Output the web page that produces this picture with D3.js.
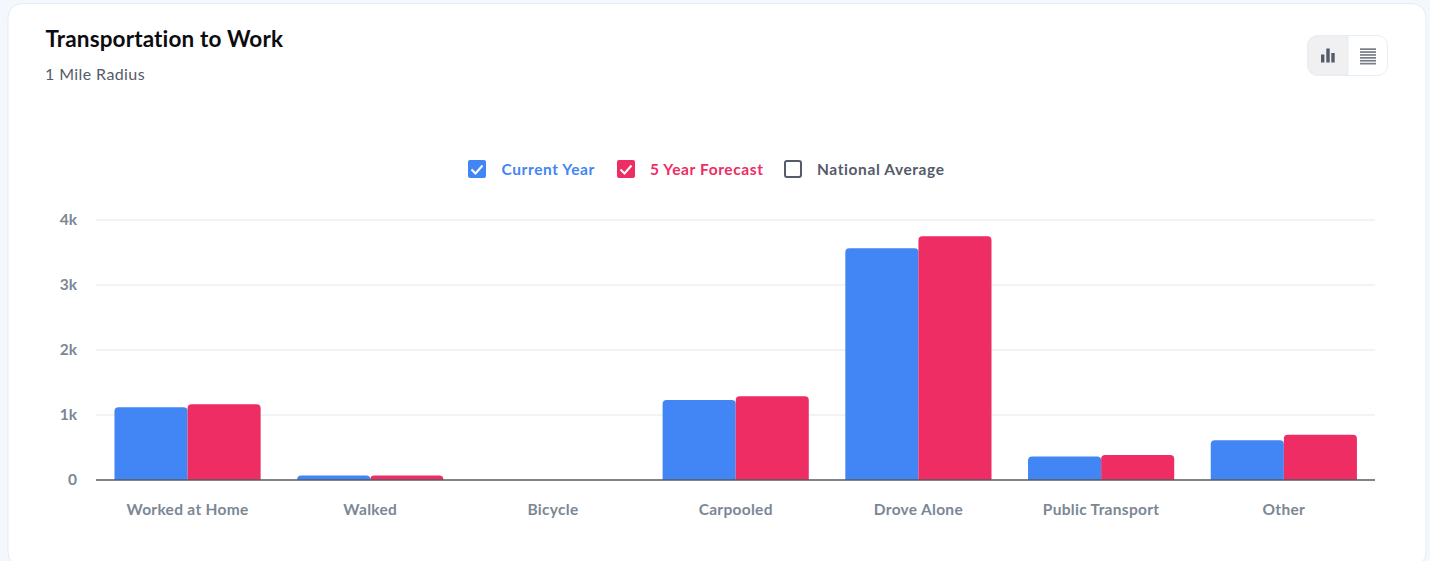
<!DOCTYPE html>
<html><head><meta charset="utf-8">
<script src="https://cdn.jsdelivr.net/npm/d3@7/dist/d3.min.js"></script>
<style>html,body{margin:0;padding:0;background:#f4f8fc;overflow:hidden}svg{display:block}text{font-family:Lato,"Noto Sans",sans-serif}</style>
</head><body><svg id="c" width="1430" height="561"></svg>
<script>
const categories=["Worked at Home","Walked","Bicycle","Carpooled","Drove Alone","Public Transport","Other"];
const currentYear=[1120,70,0,1230,3565,360,610];
const fiveYear=[1165,70,0,1290,3750,385,695];
const yTicks=[0,1000,2000,3000,4000];
const yLabels=["0","1k","2k","3k","4k"];
const seriesNames=["Current Year","5 Year Forecast"];
const seriesColors=["#4285f4","#ee2d64"];
const legendItems=[["Current Year","#4285f4",true,468,501.5],["5 Year Forecast","#ee2d64",true,617,650],["National Average","#555b6a",false,784,817]];

const svg=d3.select("#c");
svg.append("rect").attr("x",8).attr("y",3.5).attr("width",1418).attr("height",563).attr("rx",14)
  .attr("fill","#fff").attr("stroke","#e2edf5");
svg.append("text").attr("x",45.5).attr("y",47).attr("font-size",22.5).attr("font-weight",700).attr("letter-spacing",.14).attr("fill","#0c0c10").text("Transportation to Work");
svg.append("text").attr("x",45).attr("y",80).attr("font-size",16).attr("letter-spacing",.4).attr("fill","#555b6a").text("1 Mile Radius");

// toggle
const tg=svg.append("g");
tg.append("rect").attr("x",1307.5).attr("y",35.5).attr("width",80).attr("height",40).attr("rx",10).attr("fill","#fff").attr("stroke","#e6eef5");
tg.append("path").attr("d","M1318 36 h30 v39 h-30 a10 10 0 0 1 -10 -10 v-19 a10 10 0 0 1 10 -10z").attr("fill","#f0f0f1").attr("stroke","#e6eef5");
[[1321,8],[1326.3,14],[1331.3,9.5]].forEach(([x,h])=>{
  tg.append("rect").attr("x",x).attr("y",62.5-h).attr("width",3.4).attr("height",h).attr("fill","#555b6a");
});
d3.range(6).forEach(i=>tg.append("rect").attr("x",1360).attr("y",48.3+i*2.9).attr("width",16).attr("height",1.7).attr("fill","#777c88"));

// legend
const lg=svg.selectAll("g.l").data(legendItems).join("g").attr("class","l");
lg.append("rect").attr("x",d=>d[3]).attr("y",160).attr("width",18).attr("height",18).attr("rx",2)
  .attr("fill",d=>d[2]?d[1]:"#fff");
lg.filter(d=>!d[2]).select("rect").attr("x",d=>d[3]+1).attr("y",161).attr("width",16).attr("height",16).attr("stroke",d=>d[1]).attr("stroke-width",2);
lg.filter(d=>d[2]).append("path").attr("d",d=>`M${d[3]+3.5} 169.5 l4 4 l7 -8`).attr("fill","none").attr("stroke","#fff").attr("stroke-width",2);
lg.append("text").attr("x",d=>d[4]).attr("y",175).attr("font-size",15.5).attr("font-weight",700).attr("letter-spacing",.6).attr("fill",d=>d[1]).text(d=>d[0]);

// chart
const x0=d3.scaleBand().domain(categories).range([96.2,1375.2]).paddingInner(0).paddingOuter(0);
const inner=x0.bandwidth()*0.8;
const x1=d3.scaleBand().domain(seriesNames).range([x0.bandwidth()/2-inner/2,x0.bandwidth()/2+inner/2]);
const y=d3.scaleLinear().domain([0,4000]).range([480,220]);

svg.append("g").selectAll("line").data(yTicks.slice(1)).join("line")
  .attr("x1",96).attr("x2",1375).attr("y1",d=>y(d)).attr("y2",d=>y(d)).attr("stroke","#e4e7ea").attr("stroke-width",1.2);
svg.append("g").selectAll("text").data(yTicks).join("text")
  .attr("x",77).attr("y",d=>y(d)+5).attr("text-anchor","end").attr("font-size",15.5).attr("font-weight",700).attr("fill","#7b8794")
  .text((d,i)=>yLabels[i]);

const barPath=(xp,w,yp)=>{const b=y(0),r=Math.min(4,b-yp);return `M${xp} ${b}V${yp+r}Q${xp} ${yp} ${xp+r} ${yp}H${xp+w-r}Q${xp+w} ${yp} ${xp+w} ${yp+r}V${b}Z`;};
[currentYear,fiveYear].forEach((vals,s)=>{
  svg.append("g").attr("fill",seriesColors[s]).selectAll("path").data(vals.map((v,i)=>({v,c:categories[i]}))).join("path")
    .filter(d=>d.v>0)
    .attr("d",d=>barPath(x0(d.c)+x1(seriesNames[s]),x1.bandwidth(),y(d.v)));
});
svg.append("line").attr("x1",96).attr("x2",1375).attr("y1",480).attr("y2",480).attr("stroke","#555b62").attr("stroke-width",1.4);
svg.append("g").selectAll("text").data(categories).join("text")
  .attr("x",d=>x0(d)+x0.bandwidth()/2).attr("y",515).attr("text-anchor","middle").attr("font-size",15.5).attr("font-weight",700).attr("letter-spacing",.3).attr("fill","#7b8794").text(d=>d);
</script></body></html>
